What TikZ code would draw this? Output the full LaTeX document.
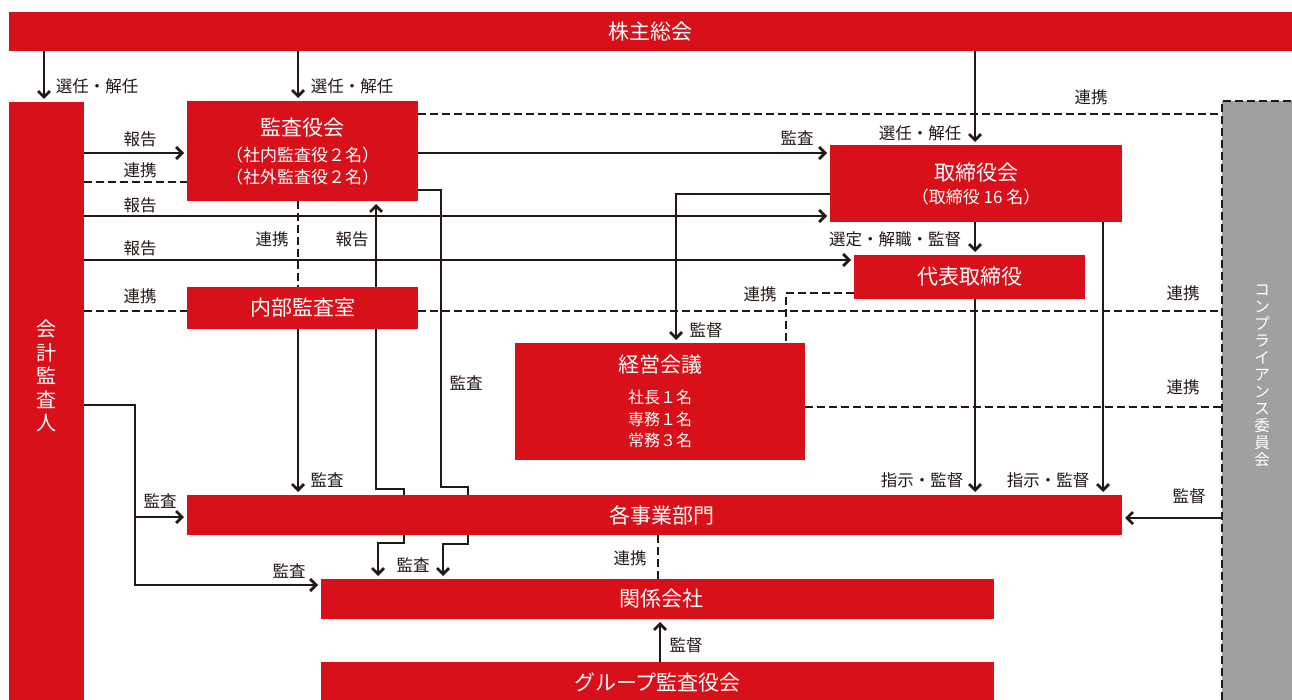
\documentclass[tikz,border=0pt]{standalone}
\usepackage{fontspec}
\setmainfont{Noto Sans CJK JP}
\usetikzlibrary{arrows.meta}
\definecolor{cred}{HTML}{D7101A}
\definecolor{cgray}{HTML}{A0A0A0}
\definecolor{cink}{HTML}{231815}
\pgfdeclarelayer{background}
\pgfsetlayers{background,main}
\begin{document}
\begin{tikzpicture}[x=1pt,y=-1pt,
  redbox/.style={fill=cred, text=white, inner sep=0pt, outer sep=0pt, anchor=north west, align=center, font=\fontsize{21}{26}\selectfont},
  graybox/.style={fill=cgray, inner sep=0pt, outer sep=0pt, anchor=north west},
  ln/.style={draw=cink, line width=2.8pt},
  arr/.style={ln, -{Straight Barb[length=6pt,width=12pt]}, shorten >=3pt},
  arrb/.style={ln, {Straight Barb[length=6pt,width=12pt]}-{Straight Barb[length=6pt,width=12pt]}, shorten >=3pt, shorten <=3pt},
  dsh/.style={draw=cink, line width=2.8pt, dash pattern=on 8pt off 4pt},
  lbl/.style={text=cink, font=\fontsize{16.5}{18}\selectfont, inner sep=0pt},
  vtext/.style={text=white, align=center, inner sep=0pt},
]
\useasboundingbox (0,0) rectangle (1292,700);

% boxes
\node[redbox, minimum width=1283pt, minimum height=39pt] (sh) at (9,12) {株主総会};
\node[redbox, minimum width=75pt, minimum height=598pt] (ka) at (9,102) {};
\node[vtext, font=\fontsize{20}{23.5}\selectfont] (katext) at (46,376) {会\\計\\監\\査\\人};
\node[redbox, minimum width=231pt, minimum height=100pt, font=\fontsize{17}{22}\selectfont] (kan) at (187,101)
  {{\fontsize{21}{26}\selectfont 監査役会}\\[4pt]（社内監査役２名）\\（社外監査役２名）};
\node[redbox, minimum width=231pt, minimum height=42pt] (nai) at (187,287) {内部監査室};
\node[redbox, minimum width=292pt, minimum height=77pt, font=\fontsize{17}{22}\selectfont] (tor) at (830,145)
  {{\fontsize{21}{26}\selectfont 取締役会}\\[1pt]（取締役 16 名）};
\node[redbox, minimum width=231pt, minimum height=44pt] (dai) at (854,255) {代表取締役};
\node[redbox, minimum width=290pt, minimum height=117pt, font=\fontsize{16}{21.5}\selectfont] (kei) at (515,343)
  {{\fontsize{21}{26}\selectfont 経営会議}\\[10pt]社長１名\\専務１名\\常務３名};
\node[redbox, minimum width=935pt, minimum height=40pt] (jig) at (187,495) {\hspace{14pt}各事業部門};
\node[redbox, minimum width=673pt, minimum height=40pt] (kk) at (321,579) {\hspace{8pt}関係会社};
\node[redbox, minimum width=673pt, minimum height=38pt, text depth=0pt] (grp) at (321,662) {\raisebox{-2pt}{グループ監査役会}};
\node[graybox, minimum width=70pt, minimum height=599pt] (comp) at (1222,101) {};
\node[vtext, font=\fontsize{15.5}{17}\selectfont] (comptext) at (1262,376) {コ\\ン\\プ\\ラ\\イ\\ア\\ン\\ス\\委\\員\\会};
\draw[dsh] (comp.south west) -- (comp.north west) -- (comp.north east);

\begin{pgfonlayer}{background}
% from shareholders
\draw[arr] (44,0 |- sh.south) -- (44,0 |- ka.north);
\draw[arr] (298,0 |- sh.south) -- (298,0 |- kan.north);
\draw[arr] (975,0 |- sh.south) -- (975,0 |- tor.north);
% accounting auditor
\draw[arr] (ka.east |- 0,153) -- (kan.west |- 0,153);
\draw[dsh] (ka.east |- 0,182) -- (kan.west |- 0,182);
\draw[arr] (ka.east |- 0,216) -- (tor.west |- 0,216);
\draw[arr] (ka.east |- 0,260) -- (dai.west |- 0,260);
\draw[dsh] (ka.east |- 0,311) -- (nai.west |- 0,311);
\draw[arr] (ka.east |- 0,405) -- (135,405) -- (135,585) -- (kk.west |- 0,585);
\draw[arr] (135,517) -- (jig.west |- 0,517);
% audit board
\draw[dsh] (kan.east |- 0,114) -- (comp.west |- 0,114);
\draw[arr] (kan.east |- 0,153) -- (tor.west |- 0,153);
\draw[dsh] (298,0 |- kan.south) -- (298,0 |- nai.north);
\draw[arrb] (376,0 |- kan.south) -- (376,489) -- (404,489) -- (404,543) -- (378,543) -- (378,0 |- kk.north);
\draw[arr] (kan.east |- 0,190) -- (441,190) -- (441,487) -- (468,487) -- (468,544) -- (443,544) -- (443,0 |- kk.north);
% internal audit
\draw[dsh] (nai.east |- 0,311) -- (comp.west |- 0,311);
\draw[arr] (298,0 |- nai.south) -- (298,0 |- jig.north);
% board
\draw[arr] (tor.west |- 0,194) -- (676,194) -- (676,0 |- kei.north);
\draw[arr] (975,0 |- tor.south) -- (975,0 |- dai.north);
\draw[arr] (1103,0 |- tor.south) -- (1103,0 |- jig.north);
\draw[arr] (975,0 |- dai.south) -- (975,0 |- jig.north);
\draw[dsh] (dai.west |- 0,293) -- (786,293) -- (786,0 |- kei.north);
\draw[dsh] (kei.east |- 0,407) -- (comp.west |- 0,407);
\draw[arr] (comp.west |- 0,518) -- (jig.east |- 0,518);
\draw[dsh] (658,0 |- jig.south) -- (658,0 |- kk.north);
\draw[arr] (660,0 |- grp.north) -- (660,0 |- kk.south);
\end{pgfonlayer}

% labels
\node[lbl] (l1) at (97,86) {選任・解任};
\node[lbl] (l2) at (352,86) {選任・解任};
\node[lbl] (l3) at (920,133) {選任・解任};
\node[lbl] (l4) at (140,139) {報告};
\node[lbl] (l5) at (140,170) {連携};
\node[lbl] (l6) at (140,205) {報告};
\node[lbl] (l7) at (140,248) {報告};
\node[lbl] (l8) at (140,296) {連携};
\node[lbl] (l9) at (1091,97) {連携};
\node[lbl] (l10) at (797,138) {監査};
\node[lbl] (l11) at (272,239) {連携};
\node[lbl] (l12) at (352,239) {報告};
\node[lbl] (l13) at (466,383) {監査};
\node[lbl] (l14) at (706,330) {監督};
\node[lbl] (l15) at (895,239) {選定・解職・監督};
\node[lbl] (l16) at (760,294) {連携};
\node[lbl] (l17) at (1183,293) {連携};
\node[lbl] (l18) at (1183,387) {連携};
\node[lbl] (l19) at (327,480) {監査};
\node[lbl] (l20) at (922,480) {指示・監督};
\node[lbl] (l21) at (1048,480) {指示・監督};
\node[lbl] (l22) at (1189,496) {監督};
\node[lbl] (l23) at (160,501) {監査};
\node[lbl] (l24) at (289,571) {監査};
\node[lbl] (l25) at (413,565) {監査};
\node[lbl] (l26) at (630,558) {連携};
\node[lbl] (l27) at (686,645) {監督};
\end{tikzpicture}
\end{document}
